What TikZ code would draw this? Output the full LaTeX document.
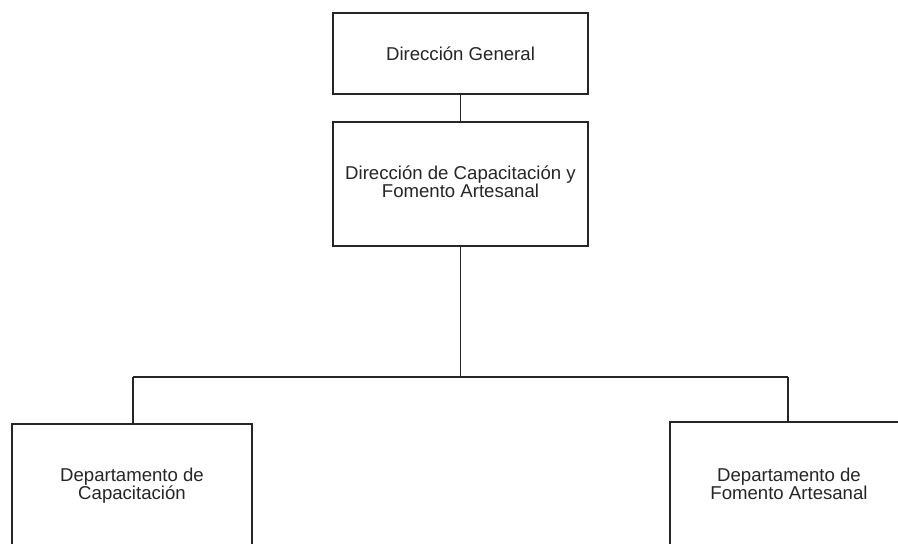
\documentclass[tikz,border=0pt]{standalone}
\usepackage{fontspec}
\setmainfont{Liberation Sans}
\begin{document}
\begin{tikzpicture}[x=1pt,y=-1pt,
  box/.style={draw=black!85, line width=1.6pt, fill=white, inner sep=0pt, align=center,
    font=\fontsize{18.6pt}{18pt}\selectfont, text=black!85},
  link/.style={draw=black!85, line width=1.6pt}]
\useasboundingbox (0,0) rectangle (898,544);
\node[box, minimum width=255pt, minimum height=81pt] (top) at (460.5,53.5) {Dirección General};
\node[box, minimum width=255pt, minimum height=124pt] (mid) at (460.5,184) {\raisebox{-3pt}{\begin{tabular}{@{}c@{}}Dirección de Capacitación y\\[-1pt]Fomento Artesanal\end{tabular}}};
\node[box, minimum width=240pt, minimum height=124pt] (left) at (132,486) {Departamento de\\Capacitación};
\node[box, minimum width=238pt, minimum height=124pt] (right) at (789,484) {Departamento de\\Fomento Artesanal};
\coordinate (busL) at (133,377);
\coordinate (busR) at (788,377);
\draw[link] (top.south) -- (mid.north);
\draw[link] (mid.south) -- (mid.south |- busL);
\draw[link] (busL) -- (busR);
\draw[link] (busL) -- (busL |- left.north);
\draw[link] (busR) -- (busR |- right.north);
\end{tikzpicture}
\end{document}
